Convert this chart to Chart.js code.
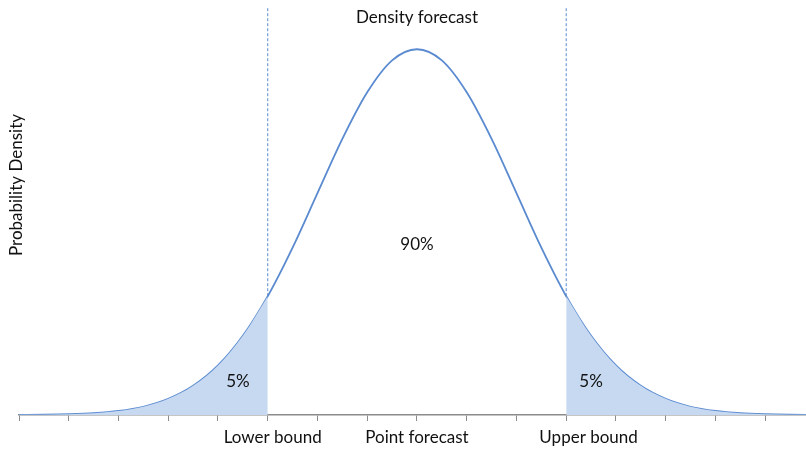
<!DOCTYPE html>
<html><head><meta charset="utf-8">
<script src="https://cdn.jsdelivr.net/npm/chart.js@4/dist/chart.umd.min.js"></script>
<style>html,body{margin:0;padding:0;background:#fff}#w{width:806px;height:451px}</style>
</head><body><div id="w"><canvas id="c"></canvas></div>
<script>
// Data
const xPoints = [0,0.5,1,1.5,2,2.5,3,3.5,4,4.5,5,5.5,6,6.5,7,7.5,8,8.5,9,9.5,10,10.5,11,11.5,12,12.5,13,13.5,14,14.5,15,15.5,16];
const density = [0.00007,0.00018,0.00044,0.0010,0.0022,0.0045,0.0088,0.0159,0.0270,0.0432,0.0648,0.0913,0.1210,0.1506,0.1760,0.1934,0.1995,0.1934,0.1760,0.1506,0.1210,0.0913,0.0648,0.0432,0.0270,0.0159,0.0088,0.0045,0.0022,0.0010,0.00044,0.00018,0.00007];
const lowerBound = 5;
const pointForecast = 8;
const upperBound = 11;
const tickValues = [0,1,2,3,4,5,6,7,8,9,10,11,12,13,14,15];
const axisLabels = ['Lower bound','Point forecast','Upper bound'];
const areaLabels = ['5%','90%','5%'];
const titleText = 'Density forecast';
const yTitle = 'Probability Density';

const FONT = 'Lato';
const pts = xPoints.map((x,i)=>({x, y: density[i]}));
const yAt = v => density[xPoints.indexOf(v)];
const Y_MAX = 0.222;

const textPlugin = {
  id: 'texts',
  afterDatasetsDraw(chart) {
    const {ctx, scales:{x, y}} = chart;
    ctx.save();
    ctx.fillStyle = '#111';
    ctx.textAlign = 'center';
    ctx.textBaseline = 'middle';
    ctx.font = '17px ' + FONT;
    ctx.fillText(titleText, x.getPixelForValue(pointForecast), 18);
    ctx.fillText(areaLabels[1], x.getPixelForValue(pointForecast), 245);
    ctx.fillText(areaLabels[0], x.getPixelForValue(lowerBound - 0.6), 382);
    ctx.fillText(areaLabels[2], x.getPixelForValue(upperBound + 0.5), 382);
    const lblX = [lowerBound + 0.1, pointForecast, upperBound + 0.45];
    axisLabels.forEach((t,i)=>ctx.fillText(t, x.getPixelForValue(lblX[i]), 438));
    ctx.translate(17, 185);
    ctx.rotate(-Math.PI/2);
    ctx.fillText(yTitle, 0, 0);
    ctx.restore();
  }
};

new Chart(document.getElementById('c'), {
  type: 'line',
  data: {
    datasets: [
      { data: pts.filter(p=>p.x<=lowerBound), fill: 'origin', backgroundColor: '#C6D9F1', borderWidth: 0, pointRadius: 0, cubicInterpolationMode: 'monotone' },
      { data: pts.filter(p=>p.x>=upperBound), fill: 'origin', backgroundColor: '#C6D9F1', borderWidth: 0, pointRadius: 0, cubicInterpolationMode: 'monotone' },
      { data: pts, borderColor: '#5A8AD0', borderWidth: 1.8, pointRadius: 0, fill: false, cubicInterpolationMode: 'monotone' },
      { data: [{x: lowerBound, y: yAt(lowerBound)}, {x: lowerBound, y: Y_MAX}], borderColor: '#5A8AD0', borderWidth: 1, borderDash: [3,2], pointRadius: 0, fill: false },
      { data: [{x: upperBound, y: yAt(upperBound)}, {x: upperBound, y: Y_MAX}], borderColor: '#5A8AD0', borderWidth: 1, borderDash: [3,2], pointRadius: 0, fill: false }
    ]
  },
  options: {
    responsive: true, maintainAspectRatio: false, animation: false,
    layout: { padding: { left: 19, right: 0, top: 8, bottom: 30 } },
    plugins: { legend: { display: false }, tooltip: { enabled: false } },
    scales: {
      x: {
        type: 'linear', min: 0, max: 15.82,
        afterBuildTicks: s => { s.ticks = tickValues.map(v=>({value:v})); },
        grid: { display: true, drawOnChartArea: false, drawTicks: true, tickLength: 6, color: '#8c8c8c' },
        border: { display: true, color: '#8c8c8c', width: 1.5 },
        ticks: { display: false }
      },
      y: { display: false, min: 0, max: Y_MAX }
    }
  },
  plugins: [textPlugin]
});
</script></body></html>
